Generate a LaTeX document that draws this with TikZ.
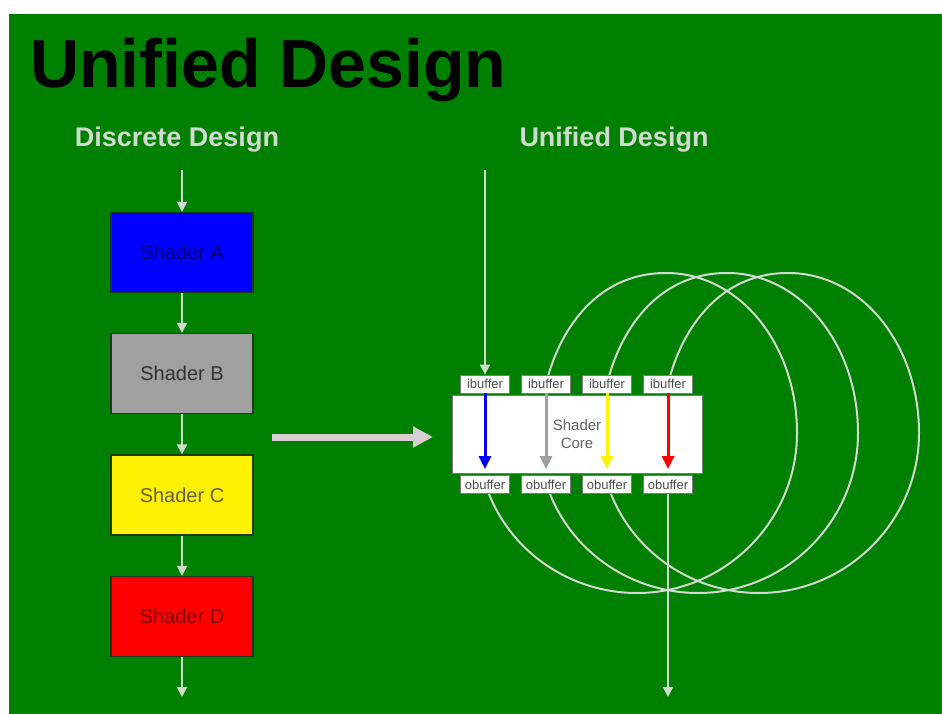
\documentclass[tikz,border=0pt]{standalone}
\usepackage{fontspec}
\setmainfont{Liberation Sans}
\usetikzlibrary{positioning, arrows.meta, backgrounds}

\definecolor{slidegreen}{HTML}{008000}
\definecolor{paleline}{HTML}{D0DACE}
\definecolor{mergecol}{HTML}{D8D0D0}
\definecolor{boxedge}{HTML}{1E3A1E}
\definecolor{bufedge}{HTML}{7A7A7A}
\definecolor{shadegray}{HTML}{A0A0A0}

\begin{document}
\begin{tikzpicture}[
  x=1pt, y=-1pt,
  shader/.style={draw=boxedge, line width=1.2pt, minimum width=142pt, minimum height=80pt,
    inner sep=0pt, font=\fontsize{20}{24}\selectfont},
  buffer/.style={draw=bufedge, fill=white, line width=0.8pt, minimum width=49pt, minimum height=18pt,
    inner sep=0pt, text=black!70, font=\fontsize{13}{15}\selectfont},
  core/.style={draw=bufedge, fill=white, line width=0.8pt, minimum width=250pt, minimum height=78pt,
    inner sep=0pt, align=center, text=black!62, font=\fontsize{15}{18}\selectfont},
  heading/.style={anchor=base, inner sep=0pt, text=paleline, font=\bfseries\fontsize{27}{30}\selectfont},
  feed/.style={-{Triangle[width=10pt,length=10pt]}, line width=2pt, draw=paleline},
  pass/.style={-{Triangle[width=12pt,length=13pt]}, line width=3pt, shorten >=6pt},
  merge/.style={-{Triangle[width=20pt,length=20pt]}, line width=7pt, draw=mergecol},
  loopline/.style={line width=2pt, draw=paleline}
]
\useasboundingbox (0,0) rectangle (942,714);

% slide background
\begin{scope}[on background layer]
  \fill[white] (0,0) rectangle (942,714);
  \fill[slidegreen] (9,14) rectangle (942,714);
\end{scope}

% title and the two column headings
\node[anchor=base west, inner sep=0pt, font=\bfseries\fontsize{68}{72}\selectfont] (title) at (30,88) {Unified Design};
\node[heading] (hleft)  at (177,147) {Discrete Design};
\node[heading] (hright) at (614,147) {Unified Design};

% discrete design: one fixed stage per shader, top to bottom
\node[shader, fill=blue, text=blue!45!black]     (sa) at (182,252.5) {Shader A};
\node[shader, fill=shadegray, text=black!80]     (sb) at (182,373.5) {Shader B};
\node[shader, fill=yellow, text=yellow!30!black] (sc) at (182,495)   {Shader C};
\node[shader, fill=red, text=red!50!black]       (sd) at (182,616.5) {Shader D};

\coordinate (inL)  at (182,170);
\coordinate (outL) at (182,697);
\draw[feed] (inL) -- (sa);
\draw[feed] (sa) -- (sb);
\draw[feed] (sb) -- (sc);
\draw[feed] (sc) -- (sd);
\draw[feed] (sd) -- (outL);

% big arrow: discrete becomes unified
\coordinate (bigtail) at (272,437);
\coordinate (bighead) at (433,437);
\draw[merge] (bigtail) -- (bighead);

% unified design: one core, four buffer pairs
\node[core] (core) at (577,434) {Shader\\Core};
\node[buffer] (i1) at (485,384) {ibuffer};
\node[buffer] (i2) at (546,384) {ibuffer};
\node[buffer] (i3) at (607,384) {ibuffer};
\node[buffer] (i4) at (668,384) {ibuffer};
\node[buffer] (o1) at (485,484.5) {obuffer};
\node[buffer] (o2) at (546,484.5) {obuffer};
\node[buffer] (o3) at (607,484.5) {obuffer};
\node[buffer] (o4) at (668,484.5) {obuffer};

\draw[pass, blue]      (i1) -- (o1);
\draw[pass, shadegray] (i2) -- (o2);
\draw[pass, yellow]    (i3) -- (o3);
\draw[pass, red]       (i4) -- (o4);

\coordinate (inR)  at (485,170);
\coordinate (outR) at (668,697);
\draw[feed] (inR) -- (i1);
\draw[feed] (o4) -- (outR);

% recirculation loops, obuffer back round to the next ibuffer (behind the core)
\begin{scope}[on background layer]
  \draw[loopline] (i2.center) .. controls +(12,-50) and +(-72,0) .. ++(120,-111)
    .. controls +(74,0) and +(0,-88) .. ++(131,160)
    .. controls +(0,88) and +(88,0) .. ++(-160,160)
    .. controls +(-65,0) and +(24,60) .. ++(-148,-99) -- (o1.center);
  \draw[loopline] (i3.center) .. controls +(12,-50) and +(-72,0) .. ++(120,-111)
    .. controls +(74,0) and +(0,-88) .. ++(131,160)
    .. controls +(0,88) and +(88,0) .. ++(-160,160)
    .. controls +(-65,0) and +(24,60) .. ++(-148,-99) -- (o2.center);
  \draw[loopline] (i4.center) .. controls +(12,-50) and +(-72,0) .. ++(120,-111)
    .. controls +(74,0) and +(0,-88) .. ++(131,160)
    .. controls +(0,88) and +(88,0) .. ++(-160,160)
    .. controls +(-65,0) and +(24,60) .. ++(-148,-99) -- (o3.center);
\end{scope}

\end{tikzpicture}
\end{document}
